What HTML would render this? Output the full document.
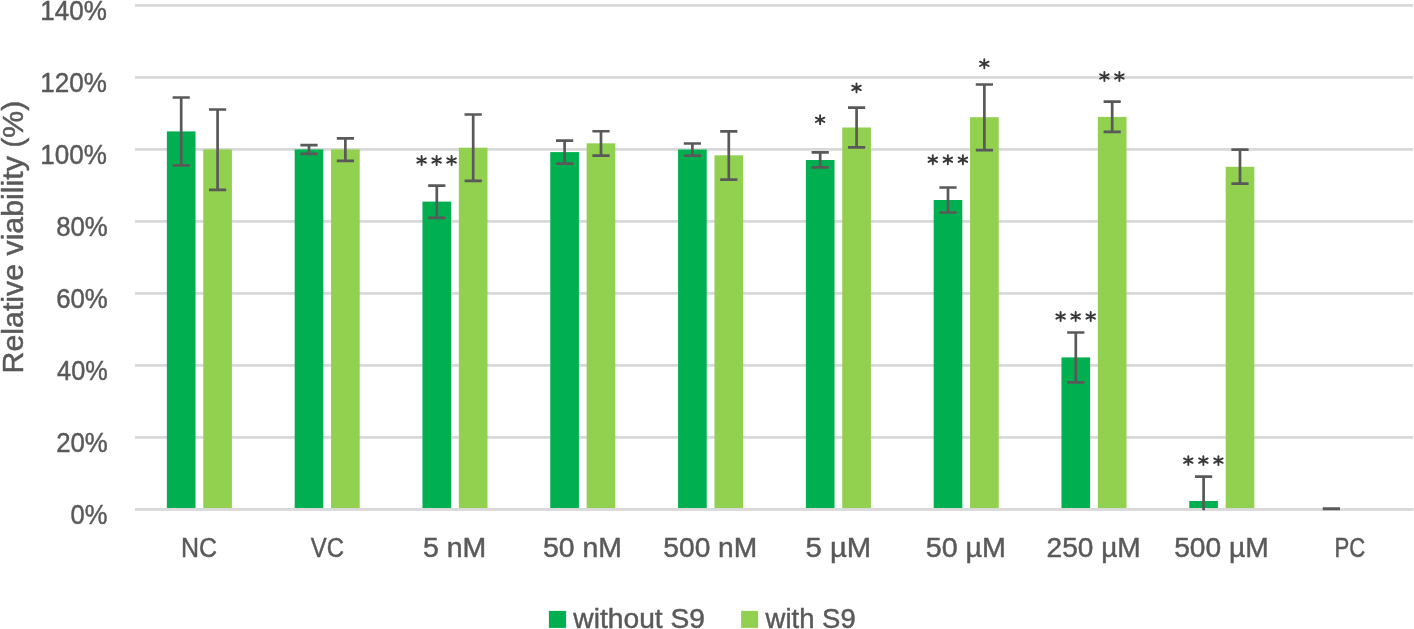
<!DOCTYPE html><html><head><meta charset="utf-8"><style>html,body{margin:0;padding:0;background:#fff;}svg{display:block;will-change:transform;}text{font-family:"Liberation Sans",sans-serif;}</style></head><body>
<svg width="1414" height="629" viewBox="0 0 1414 629">
<rect width="1414" height="629" fill="#fff"/>
<defs><clipPath id="pc"><rect x="130" y="0" width="1290" height="510.2"/></clipPath>
<symbol id="st" overflow="visible"><path d="M0,-4.5V4.5M-4.28,-2.18L4.28,2.18M-4.28,2.18L4.28,-2.18" stroke="#383838" stroke-width="1.9" stroke-linecap="round" fill="none"/></symbol></defs>
<rect x="135" y="4.00" width="1278" height="2.8" fill="#D9D9D9"/>
<rect x="135" y="76.00" width="1278" height="2.8" fill="#D9D9D9"/>
<rect x="135" y="148.00" width="1278" height="2.8" fill="#D9D9D9"/>
<rect x="135" y="220.00" width="1278" height="2.8" fill="#D9D9D9"/>
<rect x="135" y="292.00" width="1278" height="2.8" fill="#D9D9D9"/>
<rect x="135" y="364.00" width="1278" height="2.8" fill="#D9D9D9"/>
<rect x="135" y="436.00" width="1278" height="2.8" fill="#D9D9D9"/>
<rect x="166.87" y="131.40" width="28.65" height="378.00" fill="#00B050"/>
<rect x="203.26" y="149.40" width="28.65" height="360.00" fill="#92D050"/>
<rect x="294.67" y="149.40" width="28.65" height="360.00" fill="#00B050"/>
<rect x="331.06" y="149.40" width="28.65" height="360.00" fill="#92D050"/>
<rect x="422.47" y="201.60" width="28.65" height="307.80" fill="#00B050"/>
<rect x="458.86" y="147.70" width="28.65" height="361.70" fill="#92D050"/>
<rect x="550.27" y="152.10" width="28.65" height="357.30" fill="#00B050"/>
<rect x="586.66" y="143.30" width="28.65" height="366.10" fill="#92D050"/>
<rect x="678.07" y="149.50" width="28.65" height="359.90" fill="#00B050"/>
<rect x="714.46" y="155.30" width="28.65" height="354.10" fill="#92D050"/>
<rect x="805.87" y="160.00" width="28.65" height="349.40" fill="#00B050"/>
<rect x="842.26" y="127.50" width="28.65" height="381.90" fill="#92D050"/>
<rect x="933.67" y="200.00" width="28.65" height="309.40" fill="#00B050"/>
<rect x="970.06" y="117.20" width="28.65" height="392.20" fill="#92D050"/>
<rect x="1061.47" y="357.40" width="28.65" height="152.00" fill="#00B050"/>
<rect x="1097.86" y="116.90" width="28.65" height="392.50" fill="#92D050"/>
<rect x="1189.27" y="501.00" width="28.65" height="8.40" fill="#00B050"/>
<rect x="1225.66" y="166.80" width="28.65" height="342.60" fill="#92D050"/>
<rect x="135" y="508.00" width="1278.5" height="2.9" fill="#D9D9D9"/>
<g clip-path="url(#pc)" stroke="#595959" stroke-width="2.7" fill="none">
<path d="M181.19,97.5V165.4M172.59,97.5H189.79M172.59,165.4H189.79"/>
<path d="M217.59,109.5V189.8M208.99,109.5H226.19M208.99,189.8H226.19"/>
<path d="M309.00,145.2V153.9M300.39,145.2H317.60M300.39,153.9H317.60"/>
<path d="M345.38,138.3V160.8M336.78,138.3H353.99M336.78,160.8H353.99"/>
<path d="M436.80,185.6V217.8M428.19,185.6H445.40M428.19,217.8H445.40"/>
<path d="M473.19,114.5V180.8M464.58,114.5H481.79M464.58,180.8H481.79"/>
<path d="M564.60,140.7V163.6M556.00,140.7H573.20M556.00,163.6H573.20"/>
<path d="M600.99,131.25V155.6M592.38,131.25H609.59M592.38,155.6H609.59"/>
<path d="M692.40,143.5V155.7M683.80,143.5H701.00M683.80,155.7H701.00"/>
<path d="M728.79,131.4V179.6M720.19,131.4H737.39M720.19,179.6H737.39"/>
<path d="M820.20,152.4V167.4M811.60,152.4H828.80M811.60,167.4H828.80"/>
<path d="M856.59,107.6V147.4M847.99,107.6H865.19M847.99,147.4H865.19"/>
<path d="M948.00,187.5V212.5M939.39,187.5H956.60M939.39,212.5H956.60"/>
<path d="M984.38,84.5V150.2M975.78,84.5H992.99M975.78,150.2H992.99"/>
<path d="M1075.79,332.5V382.3M1067.19,332.5H1084.39M1067.19,382.3H1084.39"/>
<path d="M1112.18,101.7V131.85M1103.59,101.7H1120.78M1103.59,131.85H1120.78"/>
<path d="M1203.60,476.7V525.3M1195.00,476.7H1212.19M1195.00,525.3H1212.19"/>
<path d="M1239.99,149.6V183.7M1231.39,149.6H1248.59M1231.39,183.7H1248.59"/>
<path d="M1331.39,508.5V510.3M1322.80,508.5H1339.99M1322.80,510.3H1339.99"/>
</g>
<use href="#st" x="421.6" y="160.5"/>
<use href="#st" x="436.6" y="160.5"/>
<use href="#st" x="451.6" y="160.5"/>
<use href="#st" x="820.1" y="119.8"/>
<use href="#st" x="856.5" y="87.9"/>
<use href="#st" x="932.8" y="159.75"/>
<use href="#st" x="947.85" y="159.75"/>
<use href="#st" x="962.9" y="159.75"/>
<use href="#st" x="984.3" y="63.8"/>
<use href="#st" x="1060.6" y="316.5"/>
<use href="#st" x="1075.65" y="316.5"/>
<use href="#st" x="1090.7" y="316.5"/>
<use href="#st" x="1104.4" y="76.5"/>
<use href="#st" x="1119.4" y="76.5"/>
<use href="#st" x="1188.3" y="460.6"/>
<use href="#st" x="1203.35" y="460.6"/>
<use href="#st" x="1218.4" y="460.6"/>
<text id="y0" x="70.47" y="524.1" font-size="27" fill="#595959" stroke="#595959" stroke-width="0.45" textLength="36.92" lengthAdjust="spacingAndGlyphs">0%</text>
<text id="y1" x="56.14" y="452.1" font-size="27" fill="#595959" stroke="#595959" stroke-width="0.45" textLength="51.60" lengthAdjust="spacingAndGlyphs">20%</text>
<text id="y2" x="57.10" y="380.1" font-size="27" fill="#595959" stroke="#595959" stroke-width="0.45" textLength="50.63" lengthAdjust="spacingAndGlyphs">40%</text>
<text id="y3" x="56.14" y="308.1" font-size="27" fill="#595959" stroke="#595959" stroke-width="0.45" textLength="51.60" lengthAdjust="spacingAndGlyphs">60%</text>
<text id="y4" x="56.14" y="236.1" font-size="27" fill="#595959" stroke="#595959" stroke-width="0.45" textLength="51.60" lengthAdjust="spacingAndGlyphs">80%</text>
<text id="y5" x="40.27" y="164.1" font-size="27" fill="#595959" stroke="#595959" stroke-width="0.45" textLength="66.59" lengthAdjust="spacingAndGlyphs">100%</text>
<text id="y6" x="40.27" y="92.1" font-size="27" fill="#595959" stroke="#595959" stroke-width="0.45" textLength="66.59" lengthAdjust="spacingAndGlyphs">120%</text>
<text id="y7" x="40.27" y="20.1" font-size="27" fill="#595959" stroke="#595959" stroke-width="0.45" textLength="66.59" lengthAdjust="spacingAndGlyphs">140%</text>
<text id="x0" x="181.00" y="557.2" font-size="27" fill="#595959" stroke="#595959" stroke-width="0.45" textLength="36.07" lengthAdjust="spacingAndGlyphs">NC</text>
<text id="x1" x="310.87" y="557.2" font-size="27" fill="#595959" stroke="#595959" stroke-width="0.45" textLength="33.24" lengthAdjust="spacingAndGlyphs">VC</text>
<text id="x2" x="422.92" y="557.2" font-size="27" fill="#595959" stroke="#595959" stroke-width="0.45" textLength="63.30" lengthAdjust="spacingAndGlyphs">5 nM</text>
<text id="x3" x="543.03" y="557.2" font-size="27" fill="#595959" stroke="#595959" stroke-width="0.45" textLength="78.85" lengthAdjust="spacingAndGlyphs">50 nM</text>
<text id="x4" x="663.35" y="557.2" font-size="27" fill="#595959" stroke="#595959" stroke-width="0.45" textLength="93.84" lengthAdjust="spacingAndGlyphs">500 nM</text>
<text id="x5" x="805.50" y="557.2" font-size="27" fill="#595959" stroke="#595959" stroke-width="0.45" textLength="65.68" lengthAdjust="spacingAndGlyphs">5 µM</text>
<text id="x6" x="925.73" y="557.2" font-size="27" fill="#595959" stroke="#595959" stroke-width="0.45" textLength="80.25" lengthAdjust="spacingAndGlyphs">50 µM</text>
<text id="x7" x="1046.55" y="557.2" font-size="27" fill="#595959" stroke="#595959" stroke-width="0.45" textLength="94.11" lengthAdjust="spacingAndGlyphs">250 µM</text>
<text id="x8" x="1174.16" y="557.2" font-size="27" fill="#595959" stroke="#595959" stroke-width="0.45" textLength="94.52" lengthAdjust="spacingAndGlyphs">500 µM</text>
<text id="x9" x="1334.54" y="557.2" font-size="27" fill="#595959" stroke="#595959" stroke-width="0.45" textLength="30.76" lengthAdjust="spacingAndGlyphs">PC</text>
<text id="leg1" x="573.39" y="628" font-size="27" fill="#595959" stroke="#595959" stroke-width="0.45" textLength="131.63" lengthAdjust="spacingAndGlyphs">without S9</text>
<text id="leg2" x="765.60" y="628" font-size="27" fill="#595959" stroke="#595959" stroke-width="0.45" textLength="90.07" lengthAdjust="spacingAndGlyphs">with S9</text>
<text id="title" transform="rotate(-90)" x="-373.43" y="22.9" font-size="30" fill="#595959" stroke="#595959" stroke-width="0.45" textLength="272.82" lengthAdjust="spacingAndGlyphs">Relative viability (%)</text>
<rect x="548.9" y="610.9" width="17.2" height="17" fill="#00B050"/>
<rect x="741.1" y="610.9" width="17" height="17" fill="#92D050"/>
</svg></body></html>
